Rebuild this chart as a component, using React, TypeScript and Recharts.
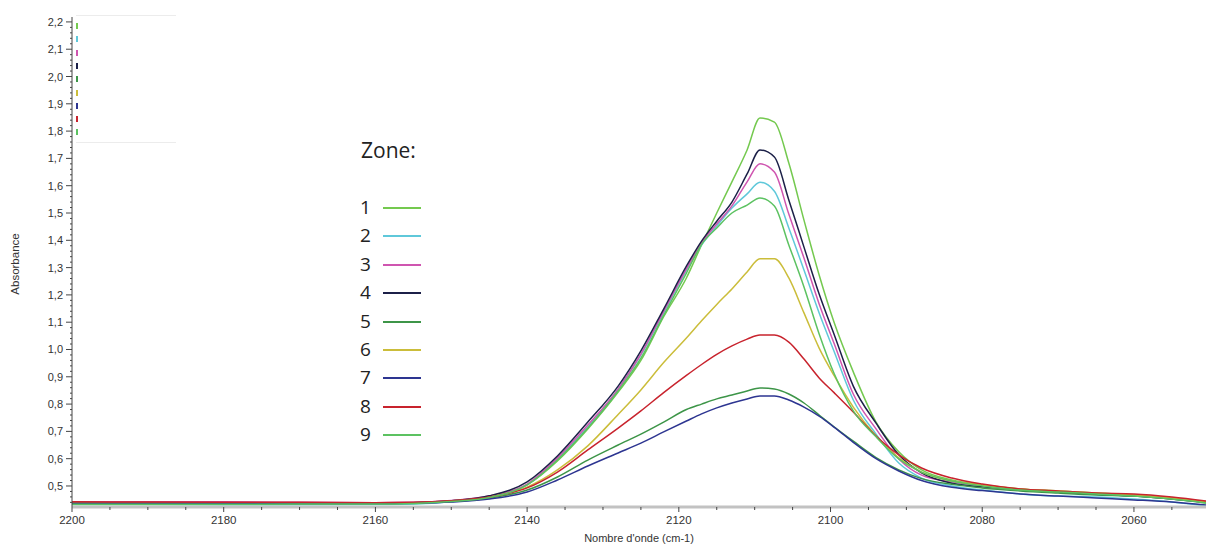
import React from "react";
import { LineChart, Line, XAxis, YAxis, Legend, Label } from "recharts";

// wavenumbers (cm-1) at which absorbance was read
const wavenumbers = [
  2200, 2190, 2180, 2170, 2160, 2155, 2150, 2145, 2140, 2136, 2132, 2128, 2125,
  2122, 2119, 2117, 2115, 2113, 2111, 2109.3, 2107.4, 2105.5, 2103.5, 2101.5,
  2099.5, 2097, 2094, 2091, 2088, 2084, 2080, 2075, 2070, 2065, 2060, 2055,
  2050.5,
];

const zone1 = [
  0.432, 0.432, 0.432, 0.433, 0.433, 0.435, 0.443, 0.458, 0.504, 0.592, 0.709,
  0.844, 0.96, 1.12, 1.262, 1.383, 1.5, 1.614, 1.731, 1.848, 1.833, 1.683,
  1.474, 1.273, 1.097, 0.918, 0.734, 0.625, 0.559, 0.522, 0.504, 0.489, 0.482,
  0.474, 0.467, 0.456, 0.441,
];
const zone2 = [
  0.432, 0.432, 0.431, 0.431, 0.432, 0.434, 0.442, 0.457, 0.504, 0.599, 0.716,
  0.855, 0.98, 1.135, 1.29, 1.383, 1.452, 1.518, 1.57, 1.613, 1.58, 1.445,
  1.291, 1.134, 0.991, 0.815, 0.69, 0.584, 0.529, 0.5, 0.485, 0.471, 0.463,
  0.46, 0.452, 0.441, 0.427,
];
const zone3 = [
  0.442, 0.442, 0.442, 0.44, 0.439, 0.44, 0.447, 0.463, 0.507, 0.603, 0.723,
  0.855, 0.983, 1.14, 1.295, 1.39, 1.46, 1.526, 1.614, 1.68, 1.65, 1.496, 1.335,
  1.167, 1.02, 0.837, 0.709, 0.599, 0.54, 0.515, 0.5, 0.487, 0.479, 0.472,
  0.464, 0.454, 0.443,
];
const zone4 = [
  0.438, 0.438, 0.437, 0.437, 0.437, 0.439, 0.446, 0.464, 0.515, 0.61, 0.734,
  0.866, 0.995, 1.148, 1.305, 1.397, 1.47, 1.54, 1.643, 1.731, 1.705, 1.548,
  1.375, 1.203, 1.053, 0.866, 0.73, 0.614, 0.548, 0.51, 0.497, 0.487, 0.478,
  0.47, 0.463, 0.452, 0.44,
];
const zone5 = [
  0.434, 0.434, 0.434, 0.435, 0.436, 0.438, 0.444, 0.456, 0.485, 0.533, 0.595,
  0.65, 0.69, 0.734, 0.78, 0.8, 0.819, 0.833, 0.848, 0.859, 0.855, 0.837,
  0.804, 0.76, 0.716, 0.664, 0.604, 0.559, 0.527, 0.506, 0.493, 0.482, 0.474,
  0.467, 0.463, 0.452, 0.438,
];
const zone6 = [
  0.437, 0.437, 0.436, 0.436, 0.437, 0.438, 0.445, 0.459, 0.496, 0.559, 0.647,
  0.762, 0.852, 0.952, 1.042, 1.105, 1.165, 1.222, 1.284, 1.332, 1.332, 1.262,
  1.134, 1.005, 0.903, 0.789, 0.683, 0.603, 0.551, 0.518, 0.504, 0.489, 0.482,
  0.474, 0.467, 0.456, 0.441,
];
const zone7 = [
  0.436, 0.436, 0.436, 0.436, 0.436, 0.437, 0.441, 0.452, 0.478, 0.522, 0.573,
  0.621, 0.657, 0.698, 0.738, 0.764, 0.786, 0.804, 0.819, 0.83, 0.83, 0.815,
  0.789, 0.756, 0.715, 0.66, 0.6, 0.555, 0.52, 0.495, 0.483, 0.471, 0.463,
  0.456, 0.449, 0.441, 0.43,
];
const zone8 = [
  0.442, 0.441, 0.44, 0.44, 0.439, 0.44, 0.446, 0.46, 0.493, 0.551, 0.632,
  0.712, 0.775, 0.842, 0.905, 0.945, 0.982, 1.013, 1.038, 1.053, 1.053, 1.027,
  0.965, 0.896, 0.841, 0.771, 0.683, 0.614, 0.566, 0.529, 0.507, 0.489, 0.482,
  0.474, 0.471, 0.46, 0.445,
];
const zone9 = [
  0.433, 0.433, 0.433, 0.434, 0.434, 0.436, 0.443, 0.458, 0.504, 0.595, 0.712,
  0.848, 0.968, 1.125, 1.28, 1.385, 1.445, 1.5, 1.529, 1.555, 1.526, 1.383,
  1.229, 1.057, 0.91, 0.775, 0.68, 0.599, 0.551, 0.518, 0.5, 0.485, 0.478,
  0.471, 0.463, 0.452, 0.438,
];

const zoneNames = ["1", "2", "3", "4", "5", "6", "7", "8", "9"];
const zoneColors = [
  "#74c94f",
  "#5fc8da",
  "#cf55b0",
  "#1c2048",
  "#3d9548",
  "#cbbd3a",
  "#2d3591",
  "#c8232d",
  "#5cc261",
];
const zones = [zone1, zone2, zone3, zone4, zone5, zone6, zone7, zone8, zone9];

const yMajorTicks = [
  0.5, 0.6, 0.7, 0.8, 0.9, 1.0, 1.1, 1.2, 1.3, 1.4, 1.5, 1.6, 1.7, 1.8, 1.9,
  2.0, 2.1, 2.2,
];
const xMajorTicks = [2200, 2180, 2160, 2140, 2120, 2100, 2080, 2060];

// minor ticks every 0.02 / every 5 cm-1
const yTicks: number[] = [];
for (let k = 22; k <= 110; k++) yTicks.push(k / 50);
const xTicks: number[] = [];
for (let w = 2055; w <= 2200; w += 5) xTicks.push(w);

const data = wavenumbers.map((wn, i) => {
  const row: Record<string, number> = { wn };
  zones.forEach((z, j) => {
    row["z" + zoneNames[j]] = z[i];
  });
  return row;
});

const font = "'Liberation Sans', Arial, sans-serif";

const YTick = (props: any) => {
  const { x, y, payload } = props;
  const v = payload.value;
  const major = yMajorTicks.some((m) => Math.abs(m - v) < 1e-6);
  return (
    <g>
      <line x1={x - (major ? 6 : 2)} x2={x} y1={y} y2={y} stroke="#444" strokeWidth={1} />
      {major && (
        <text x={x - 9} y={y} dy={4} textAnchor="end" fontSize={11} fontFamily={font} fill="#333">
          {v.toFixed(1).replace(".", ",")}
        </text>
      )}
    </g>
  );
};

const XTick = (props: any) => {
  const { x, y, payload } = props;
  const v = payload.value;
  const major = xMajorTicks.includes(v);
  return (
    <g>
      <line x1={x} x2={x} y1={y} y2={y + (major ? 5 : 3)} stroke="#444" strokeWidth={1} />
      {major && (
        <text x={x} y={y + 17} textAnchor="middle" fontSize={11.5} fontFamily={font} fill="#333">
          {v}
        </text>
      )}
    </g>
  );
};

const ZoneLegend = () => (
  <div style={{ position: "relative", width: 90, height: 310, fontFamily: "'Open Sans', sans-serif", color: "#222" }}>
    <div style={{ position: "absolute", left: 1, top: 0, fontSize: 21, lineHeight: "21px" }}>Zone:</div>
    {zoneNames.map((name, i) => (
      <React.Fragment key={name}>
        <div style={{ position: "absolute", left: 0, top: 58 + i * 28.4, fontSize: 19, lineHeight: "19px" }}>{name}</div>
        <div
          style={{
            position: "absolute",
            left: 23,
            top: 67 + i * 28.4,
            width: 38,
            height: 2,
            background: zoneColors[i],
          }}
        />
      </React.Fragment>
    ))}
  </div>
);

export default function App() {
  return (
    <div style={{ position: "absolute", left: 0, top: 0, width: 1206, height: 545, background: "#fff" }}>
      <LineChart width={1206} height={545} data={data} margin={{ top: 17, right: 0, left: 0, bottom: 0 }}>
        <XAxis
          dataKey="wn"
          type="number"
          domain={[2050.5, 2200]}
          reversed
          allowDataOverflow
          ticks={xTicks}
          interval={0}
          height={38}
          tickSize={0}
          tickMargin={0}
          tickLine={false}
          tick={<XTick />}
          axisLine={{ stroke: "#c2c2c2", strokeWidth: 3 }}
        >
          <Label
            value="Nombre d'onde (cm-1)"
            position="insideBottom"
            offset={3}
            style={{ fontSize: 11, fontFamily: font, fill: "#333" }}
          />
        </XAxis>
        <YAxis
          type="number"
          domain={[0.423, 2.218]}
          allowDataOverflow
          ticks={yTicks}
          interval={0}
          width={72}
          tickSize={0}
          tickMargin={0}
          tickLine={false}
          tick={<YTick />}
          axisLine={{ stroke: "#444" }}
          label={{
            content: () => (
              <text
                x={19}
                y={264}
                transform="rotate(-90 19 264)"
                textAnchor="middle"
                fontSize={11.5}
                fontFamily={font}
                fill="#333"
              >
                Absorbance
              </text>
            ),
          }}
        />
        <Legend
          layout="horizontal"
          verticalAlign="middle"
          align="center"
          wrapperStyle={{ left: 360, top: 140, width: 90 }}
          content={() => <ZoneLegend />}
        />
        {zoneNames.map((name, i) => (
          <Line
            key={name}
            type="monotone"
            dataKey={"z" + name}
            name={name}
            stroke={zoneColors[i]}
            strokeWidth={1.5}
            dot={false}
            isAnimationActive={false}
          />
        ))}
      </LineChart>
      {/* leftover inset box in the top-left corner */}
      <div
        style={{
          position: "absolute",
          left: 76,
          top: 15,
          width: 100,
          height: 126,
          borderTop: "1px solid #ececec",
          borderBottom: "1px solid #ececec",
        }}
      >
        {zoneColors.map((c, i) => (
          <div
            key={c + i}
            style={{ position: "absolute", left: 0, top: 7 + i * 13.3, width: 1.5, height: 6, background: c }}
          />
        ))}
      </div>
    </div>
  );
}
